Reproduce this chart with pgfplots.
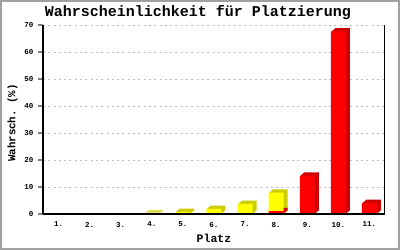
\documentclass[border=0pt]{standalone}
\usepackage{fontspec}
\setmainfont{Liberation Mono}
\setmonofont{Liberation Mono}
\usepackage{pgfplots}
\pgfplotsset{compat=1.18}
\usepackage{pgfplotstable}
\definecolor{yel}{RGB}{255,255,0}
\definecolor{yeld}{RGB}{204,204,0}
\definecolor{rd}{RGB}{255,0,0}
\definecolor{rdd}{RGB}{204,0,0}
\definecolor{frm}{RGB}{160,160,160}
\definecolor{gridc}{RGB}{190,190,190}

\pgfplotstableread{
x y
4 0.2
5 0.8
6 1.9
7 3.7
8 7.9
}\yellowdata
\pgfplotstableread{
x y
8 1.1
9 14.2
10 67.6
11 4.1
}\reddata

\begin{document}
\begin{tikzpicture}[x=1pt,y=1pt]
\useasboundingbox (0,0) rectangle (400,250);
\fill[white] (0,0) rectangle (400,250);
\draw[frm, line width=2pt] (1,1) rectangle (399,249);
\begin{axis}[
  at={(43pt,36pt)}, anchor=south west, scale only axis,
  width=342pt, height=189pt,
  xmin=0.5, xmax=11.5, ymin=0, ymax=70,
  ybar, bar width=15pt, bar shift=0pt,
  axis x line*=bottom, axis y line*=left,
  axis line style={line width=1.2pt},
  xtick={1,...,11},
  xticklabels={1.,2.,3.,4.,5.,6.,7.,8.,9.,10.,11.},
  xtick style={draw=none},
  ytick={0,10,...,70},
  ytick style={line width=1.2pt},
  tick align=outside,
  major tick length=5pt,
  ymajorgrids,
  grid style={gridc, dash pattern=on 2pt off 3.3pt, line width=0.8pt},
  /pgf/number format/assume math mode=true,
  tick label style={font=\ttfamily\bfseries\fontsize{7.5}{8}\selectfont},
  yticklabel style={xshift=-1pt},
  xticklabel style={yshift=0.5pt},
]
\pgfplotsinvokeforeach{4,3,2,1}{
  \addplot[fill=yeld, draw=none, xshift=#1pt, yshift={0.82*#1pt}] table[x=x,y=y]{\yellowdata};
}
\pgfplotsinvokeforeach{4,3,2,1}{
  \addplot[fill=rdd, draw=none, xshift=#1pt, yshift={0.82*#1pt}] table[x=x,y=y]{\reddata};
}
\addplot[fill=yel, draw=none] table[x=x,y=y]{\yellowdata};
\addplot[fill=rd, draw=none] table[x=x,y=y]{\reddata};
\draw[black, line width=1.2pt] (rel axis cs:0,0) -- (rel axis cs:1,0) -- (rel axis cs:1,1);
\end{axis}
\node[anchor=base, font=\ttfamily\bfseries\fontsize{15}{15}\selectfont, inner sep=0] at (198,234) {Wahrscheinlichkeit für Platzierung};
\node[rotate=90, font=\ttfamily\bfseries\fontsize{10.8}{11}\selectfont, inner sep=0] at (12.5,127) {Wahrsch. (\%)};
\node[anchor=base, font=\ttfamily\bfseries\fontsize{11.5}{12}\selectfont, inner sep=0] at (214,7.7) {Platz};
\end{tikzpicture}
\end{document}
